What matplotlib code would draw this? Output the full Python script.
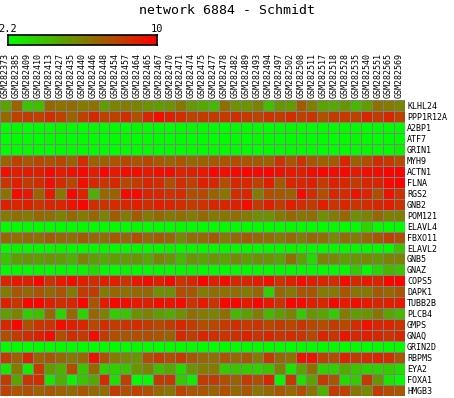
import numpy as np
import matplotlib
matplotlib.use('Agg')
import matplotlib.pyplot as plt
from matplotlib.colors import LinearSegmentedColormap

samples = ['GSM282373', 'GSM282385', 'GSM282409', 'GSM282410', 'GSM282413', 'GSM282427',
           'GSM282435', 'GSM282440', 'GSM282446', 'GSM282448', 'GSM282454', 'GSM282457',
           'GSM282464', 'GSM282465', 'GSM282467', 'GSM282470', 'GSM282471', 'GSM282474',
           'GSM282475', 'GSM282477', 'GSM282478', 'GSM282482', 'GSM282489', 'GSM282493',
           'GSM282494', 'GSM282497', 'GSM282502', 'GSM282508', 'GSM282511', 'GSM282517',
           'GSM282518', 'GSM282528', 'GSM282535', 'GSM282540', 'GSM282551', 'GSM282565',
           'GSM282569']

genes = ['KLHL24', 'PPP1R12A', 'A2BP1', 'ATF7', 'GRIN1', 'MYH9', 'ACTN1', 'FLNA', 'RGS2',
         'GNB2', 'POM121', 'ELAVL4', 'FBXO11', 'ELAVL2', 'GNB5', 'GNAZ', 'COPS5', 'DAPK1',
         'TUBB2B', 'PLCB4', 'GMPS', 'GNAQ', 'GRIN2D', 'RBPMS', 'EYA2', 'FOXA1', 'HMGB3']

# expression values, one row per gene (columns follow samples)
klhl24 = [5.0, 6.9, 4.0, 4.2, 6.8, 6.5, 6.7, 6.3, 6.5, 5.2, 6.0, 6.2, 6.0, 5.5, 5.2, 5.5, 6.3, 5.3,
          4.8, 4.3, 6.6, 5.5, 5.5, 6.0, 4.2, 5.4, 5.2, 7.2, 6.1, 5.0, 4.8, 5.4, 4.4, 5.2, 6.5, 6.2, 5.9]
ppp1r12a = [6.8, 8.0, 8.2, 8.0, 8.6, 8.0, 7.0, 8.0, 8.8, 8.0, 8.0, 8.6, 7.5, 8.8, 9.6, 9.0, 8.6, 8.0,
            8.2, 8.2, 8.2, 8.6, 8.2, 7.9, 8.4, 8.2, 8.6, 8.0, 8.4, 7.5, 8.2, 8.2, 8.0, 8.8, 8.2, 8.8, 8.0]
a2bp1 = [2.3, 2.4, 2.2, 2.3, 2.3, 2.5, 2.3, 2.2, 2.4, 2.3, 2.3, 2.2, 2.4, 2.3, 2.3, 2.2, 2.3, 2.4,
         2.3, 2.3, 2.2, 2.4, 2.3, 2.3, 2.2, 2.3, 2.4, 2.3, 2.2, 2.3, 2.3, 2.4, 2.3, 2.2, 2.3, 2.3, 2.3]
atf7 = [2.2, 2.3, 2.3, 2.2, 2.4, 2.3, 2.2, 2.3, 2.3, 2.2, 2.3, 2.4, 2.2, 2.3, 2.3, 2.2, 2.3, 2.2,
        2.3, 2.2, 2.3, 2.3, 2.2, 2.4, 2.3, 2.2, 2.3, 2.3, 2.2, 2.3, 2.2, 2.3, 2.4, 2.3, 2.2, 2.3, 2.3]
grin1 = [2.3, 2.3, 2.4, 2.3, 2.2, 2.3, 2.4, 2.3, 2.3, 2.3, 2.2, 2.3, 2.3, 2.4, 2.3, 2.3, 2.2, 2.3,
         2.3, 2.4, 2.3, 2.3, 2.3, 2.2, 2.3, 2.3, 2.4, 2.3, 2.3, 2.2, 2.3, 2.3, 2.3, 2.4, 2.3, 2.3, 2.6]
myh9 = [6.9, 8.0, 7.3, 7.8, 7.5, 7.8, 7.0, 8.6, 7.0, 7.0, 7.4, 7.8, 7.4, 7.8, 7.3, 6.9, 7.4, 6.8,
        7.0, 7.2, 7.4, 7.6, 7.4, 7.2, 7.0, 8.4, 7.4, 8.4, 7.4, 7.0, 7.2, 8.8, 7.0, 7.6, 8.6, 8.2, 7.6]
actn1 = [9.5, 9.0, 9.2, 9.0, 9.7, 9.1, 9.5, 9.7, 9.1, 9.8, 9.2, 9.6, 9.5, 9.2, 9.5, 9.6, 8.9, 9.0,
         9.2, 9.8, 9.5, 9.7, 9.8, 9.7, 9.8, 9.5, 9.2, 9.0, 9.6, 9.8, 9.6, 9.7, 9.2, 9.5, 9.6, 9.8, 9.8]
flna = [8.3, 9.0, 8.2, 8.6, 9.5, 8.6, 7.8, 9.5, 8.8, 8.4, 8.8, 7.8, 8.2, 8.8, 8.6, 7.6, 8.6, 8.0,
        9.0, 8.8, 7.6, 8.8, 8.8, 8.0, 9.0, 7.2, 8.8, 8.8, 9.0, 8.2, 9.0, 8.8, 8.2, 8.8, 8.8, 9.6, 9.8]
rgs2 = [6.5, 9.6, 9.2, 6.9, 9.2, 6.3, 9.7, 8.8, 4.6, 6.8, 7.0, 9.6, 9.6, 8.8, 8.8, 8.4, 8.6, 7.6,
        7.8, 7.0, 6.4, 8.6, 8.8, 6.2, 7.6, 7.4, 7.0, 9.6, 8.6, 7.6, 8.8, 8.6, 9.4, 8.8, 7.6, 9.4, 8.4]
gnb2 = [9.0, 8.8, 9.0, 8.4, 8.8, 8.8, 9.4, 9.8, 8.6, 8.4, 8.6, 8.8, 9.0, 8.6, 9.0, 8.8, 8.6, 8.2,
        8.4, 8.8, 8.8, 9.0, 9.6, 8.2, 9.0, 8.2, 9.0, 8.6, 8.2, 9.0, 8.4, 8.8, 8.4, 8.6, 8.8, 9.0, 8.4]
pom121 = [6.2, 6.6, 6.2, 6.8, 6.6, 6.0, 6.8, 6.2, 6.8, 6.0, 7.2, 6.2, 7.2, 6.2, 6.8, 6.3, 6.6, 6.2,
          6.8, 6.3, 6.4, 6.6, 6.2, 5.6, 5.6, 6.3, 6.8, 6.4, 6.6, 5.6, 6.2, 6.8, 5.6, 6.0, 6.8, 6.1, 6.1]
elavl4 = [2.3, 2.3, 2.4, 2.3, 2.3, 2.3, 2.3, 2.4, 2.3, 2.3, 2.3, 2.3, 2.4, 2.3, 2.3, 2.3, 2.4, 2.3,
          2.3, 2.3, 2.4, 2.3, 2.3, 2.3, 2.3, 2.3, 2.4, 2.3, 2.3, 2.3, 2.4, 2.3, 2.3, 3.5, 2.4, 2.3, 2.3]
fbxo11 = [6.8, 6.6, 6.8, 6.6, 7.2, 6.8, 6.6, 7.2, 6.8, 6.6, 7.2, 6.8, 7.6, 6.8, 7.2, 6.8, 5.8, 6.6,
          6.8, 7.2, 6.2, 6.8, 7.2, 6.8, 6.6, 6.2, 6.8, 6.2, 6.8, 6.6, 5.8, 6.6, 6.2, 6.8, 7.4, 8.0, 7.6]
elavl2 = [2.4, 2.6, 2.4, 2.4, 2.4, 2.6, 2.4, 2.4, 2.4, 2.5, 2.4, 2.4, 2.5, 2.4, 2.4, 2.6, 2.4, 2.4,
          2.4, 2.4, 2.5, 2.4, 2.4, 2.4, 2.4, 2.4, 2.5, 2.4, 2.4, 2.4, 2.4, 2.5, 2.4, 2.4, 2.4, 2.4, 4.0]
gnb5 = [4.0, 5.2, 5.4, 5.2, 5.4, 5.2, 4.6, 6.0, 5.2, 4.8, 5.2, 5.2, 5.4, 4.8, 6.0, 5.4, 4.4, 5.4,
        5.0, 5.4, 5.0, 5.8, 5.2, 5.6, 5.4, 5.0, 6.6, 5.0, 3.4, 6.0, 5.8, 5.2, 5.4, 5.8, 5.4, 6.0, 6.0]
gnaz = [2.4, 2.4, 2.4, 2.5, 2.4, 2.5, 2.4, 2.6, 3.3, 2.4, 2.4, 2.6, 2.4, 2.4, 2.5, 2.4, 2.5, 2.6,
        2.4, 2.4, 2.4, 2.4, 2.4, 2.4, 2.4, 2.4, 2.4, 2.4, 2.4, 2.4, 2.4, 2.5, 3.8, 2.4, 3.4, 4.4, 4.0]
cops5 = [8.8, 9.2, 9.0, 9.8, 8.4, 9.2, 9.6, 9.0, 8.6, 9.0, 9.0, 8.4, 9.2, 9.6, 9.0, 9.7, 8.4, 8.8,
         9.8, 9.0, 9.6, 8.8, 8.8, 9.2, 9.5, 8.4, 9.0, 9.6, 9.0, 8.8, 8.6, 9.6, 8.8, 9.2, 8.8, 9.8, 9.8]
dapk1 = [6.2, 7.4, 6.8, 7.4, 6.8, 7.4, 6.2, 8.2, 8.2, 6.2, 6.8, 6.5, 6.8, 6.8, 5.6, 5.6, 7.6, 7.4,
         6.2, 6.6, 6.5, 6.6, 6.2, 6.8, 3.6, 6.8, 6.3, 7.4, 7.4, 6.2, 6.2, 7.4, 6.4, 6.3, 7.2, 6.8, 7.4]
tubb2b = [9.0, 8.4, 9.8, 9.8, 9.0, 8.6, 8.8, 9.8, 7.4, 9.2, 9.8, 9.6, 9.2, 9.0, 9.6, 9.4, 9.6, 8.4,
          9.2, 8.4, 9.8, 9.8, 9.2, 9.8, 9.2, 8.4, 9.8, 9.7, 9.0, 8.8, 9.8, 9.2, 9.6, 9.2, 8.8, 9.0, 9.2]
plcb4 = [5.2, 6.0, 3.8, 4.2, 6.8, 3.6, 6.8, 3.6, 6.8, 6.0, 3.8, 4.0, 5.6, 6.0, 5.2, 4.8, 5.6, 6.6,
         6.2, 6.0, 6.6, 4.4, 5.2, 6.2, 4.4, 5.2, 6.0, 3.8, 5.4, 5.0, 3.8, 6.2, 5.2, 5.4, 6.4, 5.0, 4.4]
gmps = [8.8, 9.8, 7.6, 8.4, 8.4, 9.6, 9.0, 8.8, 7.8, 8.6, 8.2, 8.4, 8.6, 8.2, 7.8, 8.2, 8.8, 8.2,
        7.6, 7.8, 8.2, 8.6, 8.2, 8.4, 7.8, 8.2, 7.8, 8.4, 7.8, 7.6, 8.2, 7.8, 8.6, 9.4, 8.8, 8.8, 8.4]
gnaq = [7.6, 8.2, 8.6, 9.0, 9.6, 7.6, 8.6, 8.2, 9.6, 8.2, 7.6, 7.4, 7.6, 7.6, 7.4, 7.0, 8.8, 8.2,
        8.8, 8.6, 8.4, 8.6, 9.0, 8.4, 8.8, 8.4, 8.6, 8.4, 7.8, 8.8, 8.4, 9.4, 8.8, 9.0, 8.8, 8.4, 8.8]
grin2d = [2.3, 2.3, 2.2, 2.3, 2.3, 2.4, 2.3, 2.3, 2.2, 2.3, 2.3, 2.3, 2.4, 2.3, 2.2, 2.3, 2.3, 2.3,
          2.3, 2.2, 2.3, 2.3, 2.4, 2.3, 2.3, 2.3, 2.2, 2.3, 2.3, 2.3, 2.4, 2.3, 2.3, 2.2, 2.3, 2.3, 2.3]
rbpms = [8.2, 7.0, 8.8, 7.0, 7.4, 6.8, 6.2, 6.8, 9.4, 7.6, 6.2, 5.8, 5.4, 7.6, 8.2, 7.6, 8.2, 7.4,
         6.8, 6.6, 7.4, 6.8, 7.4, 6.2, 8.2, 6.8, 6.5, 9.4, 9.4, 8.0, 7.6, 8.8, 8.2, 8.6, 8.8, 8.6, 7.4]
eya2 = [3.0, 6.2, 2.8, 8.2, 5.2, 4.6, 7.6, 4.0, 6.8, 3.6, 3.6, 4.0, 5.4, 6.0, 4.2, 4.8, 3.4, 5.4,
        6.2, 6.2, 3.8, 4.0, 3.8, 3.6, 4.0, 6.0, 3.0, 5.0, 6.6, 3.6, 3.6, 4.8, 4.0, 3.6, 3.6, 3.8, 3.2]
foxa1 = [8.2, 5.0, 8.4, 8.6, 3.0, 4.6, 2.6, 4.0, 4.8, 8.6, 3.2, 8.0, 2.4, 2.4, 8.2, 8.2, 3.8, 2.8,
         8.2, 8.2, 7.6, 7.0, 8.2, 7.6, 8.8, 2.5, 8.2, 3.2, 5.0, 8.2, 7.4, 3.4, 3.8, 8.2, 5.4, 3.0, 2.4]
hmgb3 = [8.0, 7.4, 7.6, 7.0, 7.4, 7.0, 6.8, 7.4, 6.8, 6.6, 8.2, 7.6, 8.0, 7.6, 6.8, 6.4, 8.0, 7.4,
         7.4, 7.0, 7.6, 6.8, 7.4, 6.4, 6.8, 7.4, 6.8, 7.6, 6.4, 4.6, 8.2, 8.0, 6.4, 5.8, 8.2, 7.6, 7.4]

vmin, vmax = 2.2, 10

data = np.array([klhl24, ppp1r12a, a2bp1, atf7, grin1, myh9, actn1, flna, rgs2, gnb2, pom121,
                 elavl4, fbxo11, elavl2, gnb5, gnaz, cops5, dapk1, tubb2b, plcb4, gmps, gnaq,
                 grin2d, rbpms, eya2, foxa1, hmgb3])
nrow, ncol = data.shape

mono = 'DejaVu Sans Mono'
cmap = LinearSegmentedColormap.from_list('green_red', ['#00ff00', '#ff0000'])

fig = plt.figure(figsize=(4.54, 3.98), dpi=100)

# heatmap
ax = fig.add_axes([0, 0.005, 405 / 454, 0.7437])
ax.pcolormesh(data, cmap=cmap, vmin=vmin, vmax=vmax)
# thin grey grid between cells (1 px)
ax.vlines(np.arange(ncol + 1), 0, nrow, colors='#808080', linewidth=0.72, antialiased=False)
ax.hlines(np.arange(nrow + 1), 0, ncol, colors='#808080', linewidth=0.72, antialiased=False)
ax.set_xlim(0, ncol)
ax.set_ylim(nrow, 0)
ax.xaxis.tick_top()
ax.set_xticks(np.arange(ncol) + 0.5)
ax.set_xticklabels(samples, rotation=90, fontsize=6, family=mono)
ax.yaxis.tick_right()
ax.set_yticks(np.arange(nrow) + 0.5)
ax.set_yticklabels(genes, fontsize=6, family=mono)
ax.tick_params(length=0, pad=1.5)
for s in ax.spines.values():
    s.set_visible(False)

# color bar
cax = fig.add_axes([8 / 454, 1 - 45 / 398, 149 / 454, 10 / 398])
cax.imshow(np.linspace(vmin, vmax, 256)[None, :], aspect='auto', cmap=cmap,
           extent=[vmin, vmax, 0, 1])
cax.set_xticks([])
cax.set_yticks([])
for s in cax.spines.values():
    s.set_linewidth(1.2)
fig.text(8 / 454, 1 - 34 / 398, '2.2', ha='center', va='bottom', fontsize=7.5, family=mono)
fig.text(157 / 454, 1 - 34 / 398, '10', ha='center', va='bottom', fontsize=7.5, family=mono)

fig.suptitle('network 6884 - Schmidt', x=0.5, y=1 - 4 / 398, va='top', fontsize=9.5, family=mono)

fig.savefig('out.png', dpi=100)
